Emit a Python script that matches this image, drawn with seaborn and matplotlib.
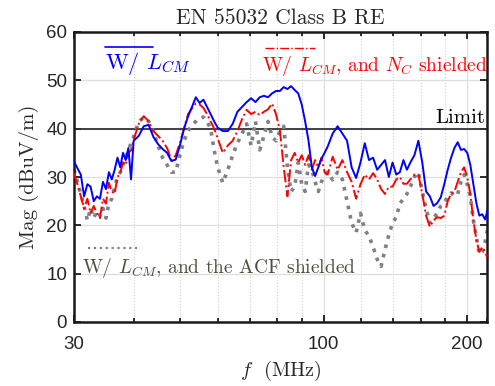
import numpy as np
import pandas as pd
import matplotlib
matplotlib.use("Agg")
import matplotlib.pyplot as plt
from matplotlib.lines import Line2D
from matplotlib.ticker import FixedLocator, NullFormatter
import seaborn as sns

# ---------------- data ----------------
freq_mhz = [30, 30.5, 31, 31.5, 32, 32.5, 33, 33.5, 34, 34.5, 35, 35.5, 36, 36.5, 37, 37.5,
            38, 38.5, 39, 39.5, 40, 41, 42, 43, 44, 45, 46, 47, 48, 49, 50, 51, 52, 53, 54,
            55, 56, 57, 58, 59, 60, 61.5, 63, 64.5, 66, 67.5, 69, 70.5, 72, 73.5, 75, 76.5,
            78, 79.5, 81, 82.5, 84, 85.5, 87, 88.5, 90, 91.5, 93, 94.5, 96, 97.5, 99, 100.5,
            102, 104.5, 107, 109.5, 112, 114.5, 117, 119.5, 122, 124.5, 127, 129.5, 132,
            134.5, 137, 139.5, 142, 144.5, 147, 149.5, 152, 155, 158, 161, 164, 167, 170,
            173, 176, 179, 182, 185, 188, 191, 194, 197, 200, 203, 206, 209, 212, 215, 218, 221]

mag_lcm = [33.2, 31.8, 30.5, 26, 28.5, 28, 25, 26, 25.5, 29, 27.5, 31, 29.5, 31.5, 34, 32,
           35, 33.5, 36, 29.5, 37.5, 38.5, 40.5, 40.8, 38.3, 36.8, 35.8, 35, 33.3, 33.6, 36.5,
           40, 42.5, 44.5, 46.5, 45.3, 46, 44.5, 43, 41.5, 40.2, 39.5, 39.5, 41, 43.5, 44.5,
           45.5, 46.3, 45.5, 46.5, 46.8, 46.5, 47.3, 47.8, 47.8, 48.6, 48.2, 48.8, 48, 47.3,
           45, 41.5, 37.5, 32, 30.2, 32, 33.8, 35, 36.3, 39, 40.5, 39, 37.5, 32, 29.8, 33,
           37, 33.5, 34, 31.5, 32.5, 33.5, 30, 33, 30.5, 31, 33.5, 31.5, 33, 34.5, 37.5, 33,
           27, 26, 24, 24.6, 25.8, 28.5, 31.5, 34, 36, 37.2, 35.6, 35.8, 35, 32.5, 28.5, 24.6,
           22, 22.3, 21.2, 23.5]

mag_nc = [30.8, 28.5, 26, 23.5, 25.5, 22.5, 24, 22.5, 21.5, 25.5, 24.5, 28.8, 27, 26.5, 30,
          30.8, 33, 32.5, 35, 35.5, 37.7, 41, 42.6, 41.5, 39.5, 38.5, 37.5, 36, 33.5, 34.5,
          37, 40, 43, 44.2, 45.2, 45, 44.3, 43, 41.5, 40, 38, 35, 36.5, 37.5, 39.5, 42, 43.9,
          43, 43.5, 42.8, 43.5, 44, 45.2, 43, 39.7, 32, 26, 33.5, 35, 33, 34.5, 32.5, 34.5,
          31.5, 33.5, 32, 34, 31, 30.5, 34.2, 31.5, 33.5, 31, 29, 25.5, 28.5, 30.5, 29.5,
          30.8, 29.5, 27.5, 26.5, 28, 28, 29.5, 30, 28.6, 28.6, 29.5, 30.5, 30.5, 26.5, 22,
          19.7, 21, 21.7, 21.5, 22, 25, 26.5, 27, 29, 31, 32, 30, 26.5, 21, 17, 14.5, 15.5,
          14.5, 13]

mag_acf = [31.5, 29, 26.5, 24, 21, 23.5, 21.5, 23, 22, 23.5, 21.5, 24.5, 25.5, 28, 30, 31,
           32.5, 34, 35.5, 37, 38.3, 41.5, 42.3, 41.5, 39.5, 36.5, 34, 32.5, 31, 31, 34.5,
           37.5, 39.5, 40.8, 41.5, 42.2, 42.4, 41.5, 40, 35.5, 32, 28.8, 31.5, 34.5, 37, 39,
           41, 36.5, 41.5, 35.6, 38.5, 41.5, 38.3, 37.5, 39.5, 40.5, 32, 27, 28, 33, 28.5,
           27, 32.5, 31.5, 29, 27, 29, 30.5, 31, 29.4, 31, 29.5, 25, 20.5, 18.5, 22.5, 19,
           17.8, 15.5, 13, 11.5, 15, 18, 20.5, 21.7, 24.5, 25.5, 26.5, 28, 30, 31, 27, 23.5,
           20.5, 21.5, 22.5, 24, 24.6, 26, 26.7, 26, 26.5, 29, 30.5, 28.5, 26, 21, 17.6, 14,
           14.5, 16.5, 19.5]

limit_dbuv = 40
x_major = [30, 100, 200]
x_major_labels = ["30", "100", "200"]
x_minor = [40, 50, 60, 70, 80, 90, 120, 140, 160, 180, 220]
y_ticks = [0, 10, 20, 30, 40, 50, 60]

label_lcm = r"W/ $L_{CM}$"
label_nc = r"W/ $L_{CM}$, and $N_C$ shielded"
label_acf = r"W/ $L_{CM}$, and the ACF shielded"

df = pd.DataFrame({"f": freq_mhz, "lcm": mag_lcm, "nc": mag_nc, "acf": mag_acf})

# ---------------- style ----------------
sns.set_style("ticks")
plt.rcParams["mathtext.fontset"] = "cm"
plt.rcParams["font.family"] = ["Liberation Sans", "DejaVu Sans"]
plt.rcParams["axes.unicode_minus"] = False
SERIF = "cmr10"

c_blue = "#0000ff"
c_red = "#ff0000"
c_gray = "#7d8282"
c_gray_txt = "#4f4d3c"

fig = plt.figure(figsize=(4.95, 3.86), dpi=100)
ax = fig.add_axes([74 / 495, 1 - 322 / 386, 413 / 495, 290 / 386])
ax.set_xscale("log")

ax.axhline(limit_dbuv, color="#333333", lw=1.3, zorder=1)

sns.lineplot(data=df, x="f", y="acf", ax=ax, color=c_gray, lw=2.6, linestyle=":", zorder=2)
sns.lineplot(data=df, x="f", y="nc", ax=ax, color=c_red, lw=1.4, linestyle="-.", zorder=3)
sns.lineplot(data=df, x="f", y="lcm", ax=ax, color=c_blue, lw=1.4, linestyle="-", zorder=4)

ax.set_xlim(30, 220)
ax.set_ylim(0, 60)

ax.xaxis.set_major_locator(FixedLocator(x_major))
ax.set_xticklabels(x_major_labels)
ax.xaxis.set_minor_locator(FixedLocator(x_minor))
ax.xaxis.set_minor_formatter(NullFormatter())
ax.set_yticks(y_ticks)

ax.grid(True, which="major", color="#dedede", lw=0.9, ls="-")
ax.grid(True, which="minor", axis="x", color="#cfcfcf", lw=0.8, ls=":")
ax.set_axisbelow(True)

for s in ax.spines.values():
    s.set_visible(True)
    s.set_linewidth(1.8)
    s.set_color("#1a1a1a")
ax.tick_params(which="both", direction="in", top=True, right=True, width=1.3,
               labelsize=13.5, colors="#1a1a1a")
ax.tick_params(axis="x", which="major", pad=10)
ax.tick_params(axis="y", which="major", pad=5)
ax.tick_params(which="major", length=5)
ax.tick_params(which="minor", length=3)
for lab in ax.get_xticklabels() + ax.get_yticklabels():
    lab.set_color("#262626")

ax.set_title("EN 55032 Class B RE", fontsize=15.5, pad=6, family=SERIF)
ax.set_xlabel(r"$f$  (MHz)", fontsize=14.5, labelpad=4, family=SERIF)
ax.set_ylabel("Mag (dBuV/m)", fontsize=15, labelpad=5, family=SERIF)

# legend-like annotations
ax.add_line(Line2D([0.075, 0.191], [0.948, 0.948], transform=ax.transAxes, color=c_blue, lw=1.2))
ax.text(0.075, 0.893, label_lcm, transform=ax.transAxes, color=c_blue, fontsize=16,
        ha="left", va="center", family=SERIF)
ax.add_line(Line2D([0.462, 0.584], [0.945, 0.945], transform=ax.transAxes, color=c_red,
                   lw=1.0, ls="-."))
ax.text(0.455, 0.883, label_nc, transform=ax.transAxes, color=c_red, fontsize=14,
        ha="left", va="center", family=SERIF)
ax.add_line(Line2D([0.034, 0.153], [0.255, 0.255], transform=ax.transAxes, color=c_gray,
                   lw=1.6, ls=":"))
ax.text(0.019, 0.186, label_acf, transform=ax.transAxes, color=c_gray_txt, fontsize=14,
        ha="left", va="center", family=SERIF)
ax.text(0.995, 0.703, "Limit", transform=ax.transAxes, color="black",
        fontsize=15, ha="right", va="center", family=SERIF)

ax.set_facecolor("white")
fig.patch.set_facecolor("white")
fig.savefig("out.png", dpi=100, facecolor="white")
